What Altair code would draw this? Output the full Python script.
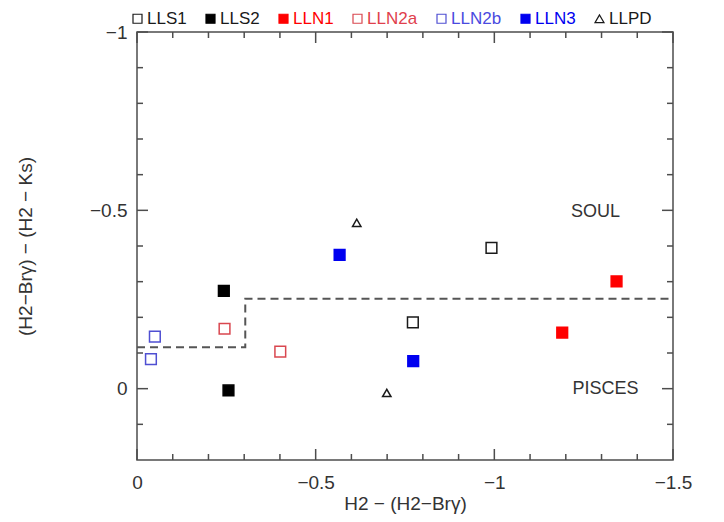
import altair as alt
import pandas as pd

# ---- data ----
groups = ["LLS1", "LLS2", "LLN1", "LLN2a", "LLN2b", "LLN3", "LLPD"]
point_group = ["LLS1", "LLS1", "LLS2", "LLS2", "LLN1", "LLN1", "LLN2a", "LLN2a",
               "LLN2b", "LLN2b", "LLN3", "LLN3", "LLPD", "LLPD"]
point_x = [-0.992, -0.772, -0.243, -0.256, -1.342, -1.190, -0.245, -0.401,
           -0.050, -0.039, -0.567, -0.773, -0.615, -0.699]
point_y = [-0.395, -0.186, -0.274, 0.005, -0.301, -0.157, -0.168, -0.104,
           -0.146, -0.083, -0.375, -0.077, -0.465, 0.012]

step_x = [0.0, -0.303, -0.303, -1.5]
step_y = [-0.116, -0.116, -0.252, -0.252]
step_order = [1, 2, 3, 4]

region_text = ["SOUL", "PISCES"]
region_x = [-1.283, -1.311]
region_y = [-0.494, 0.0]

x_major = [0, -0.5, -1, -1.5]
x_minor = [-0.1, -0.2, -0.3, -0.4, -0.6, -0.7, -0.8, -0.9, -1.1, -1.2, -1.3, -1.4]
y_major = [-1, -0.5, 0]
y_minor = [-0.9, -0.8, -0.7, -0.6, -0.4, -0.3, -0.2, -0.1, 0.1]

# ---- styles ----
stroke_colors = ["#1a1a1a", "#000000", "#ff0000", "#d9474f", "#4f4fd2", "#0000f0", "#1a1a1a"]
fill_colors = ["transparent", "#000000", "#ff0000", "transparent", "transparent", "#0000f0", "transparent"]
shapes = ["square", "square", "square", "square", "square", "square", "triangle-up"]
label_colors = ["#1a1a1a", "#1a1a1a", "#ff0000", "#e0404c", "#4a4ae0", "#0000f0", "#1a1a1a"]

FONT = "Liberation Sans"
TXT = "#333333"
W, H = 536, 428

df = pd.DataFrame({"group": point_group, "x": point_x, "y": point_y})
step_df = pd.DataFrame({"x": step_x, "y": step_y, "o": step_order})
reg_df = pd.DataFrame({"t": region_text, "x": region_x, "y": region_y})

xs = alt.Scale(domain=[-1.5, 0], reverse=True, nice=False, zero=False)
ys = alt.Scale(domain=[-1, 0.2], reverse=True, nice=False, zero=False)

label_expr = ""
for g, c in zip(groups, label_colors):
    label_expr += f"datum.value === '{g}' ? '{c}' : "
label_expr += "'#1a1a1a'"

lg = alt.Legend(
    title=None, orient="none", legendX=-8, legendY=-22, direction="horizontal",
    columns=7, symbolSize=81, symbolStrokeWidth=1.2, labelFontSize=17,
    labelFont=FONT, labelOffset=1, columnPadding=15, padding=0,
    labelColor=alt.ExprRef(label_expr),
)

x_axis = alt.Axis(
    values=x_major, format="~g", ticks=False, domain=False, grid=False,
    labelFontSize=19, labelPadding=13, labelFlush=False, labelOverlap=False,
    labelFont=FONT, labelColor=TXT, title="H2  \u2212  (H2\u2212Br\u03b3)",
    titleFont=FONT, titleFontSize=19, titleFontWeight="normal", titleColor=TXT,
    titlePadding=2,
)
y_axis = alt.Axis(
    values=y_major, format="~g", ticks=False, domain=False, grid=False,
    labelFontSize=19, labelPadding=10, labelFlush=False, labelOverlap=False,
    labelFont=FONT, labelColor=TXT,
    title="(H2\u2212Br\u03b3)  \u2212  (H2  \u2212  Ks)",
    titleFont=FONT, titleFontSize=19, titleFontWeight="normal", titleColor=TXT,
    titlePadding=54,
)

points = alt.Chart(df).mark_point(opacity=1, strokeWidth=1.5).encode(
    x=alt.X("x:Q", scale=xs, axis=x_axis),
    y=alt.Y("y:Q", scale=ys, axis=y_axis),
    stroke=alt.Stroke("group:N", scale=alt.Scale(domain=groups, range=stroke_colors), legend=lg),
    fill=alt.Fill("group:N", scale=alt.Scale(domain=groups, range=fill_colors), legend=lg),
    shape=alt.Shape("group:N", scale=alt.Scale(domain=groups, range=shapes), legend=lg),
    size=alt.condition(alt.datum.group == "LLPD", alt.value(70), alt.value(115)),
)

step = alt.Chart(step_df).mark_line(
    color="#555555", strokeWidth=2, strokeDash=[8, 5]
).encode(
    x=alt.X("x:Q", scale=xs, axis=x_axis),
    y=alt.Y("y:Q", scale=ys, axis=y_axis),
    order="o:Q",
)

regions = alt.Chart(reg_df).mark_text(
    font=FONT, fontSize=18, color=TXT, align="center", baseline="middle"
).encode(
    x=alt.X("x:Q", scale=xs, axis=x_axis),
    y=alt.Y("y:Q", scale=ys, axis=y_axis),
    text="t:N",
)

TICK = "#4d4d4d"


def xticks(vals, length, top):
    d = pd.DataFrame({"v": vals})
    y0 = 0 if top else H
    y1 = length if top else H - length
    return alt.Chart(d).mark_rule(color=TICK, strokeWidth=1.5).encode(
        x=alt.X("v:Q", scale=xs, axis=x_axis),
        y=alt.value(y0), y2=alt.value(y1),
    )


def yticks(vals, length, right):
    d = pd.DataFrame({"v": vals})
    x0 = W if right else 0
    x1 = W - length if right else length
    return alt.Chart(d).mark_rule(color=TICK, strokeWidth=1.5).encode(
        y=alt.Y("v:Q", scale=ys, axis=y_axis),
        x=alt.value(x0), x2=alt.value(x1),
    )


ticks = [
    xticks(x_major, 11, False), xticks(x_minor, 6, False),
    xticks(x_major, 11, True), xticks(x_minor, 6, True),
    yticks(y_major, 11, False), yticks(y_minor, 6, False),
    yticks(y_major, 11, True), yticks(y_minor, 6, True),
]

chart = alt.layer(step, *ticks, regions, points).properties(
    width=W, height=H,
    autosize=alt.AutoSizeParams(type="none"),
    padding={"left": 129, "top": 24, "right": 30, "bottom": 54},
).configure_view(stroke="#4d4d4d", strokeWidth=1.5)

chart.save("out.html", embed_options={"renderer": "svg", "actions": False})
